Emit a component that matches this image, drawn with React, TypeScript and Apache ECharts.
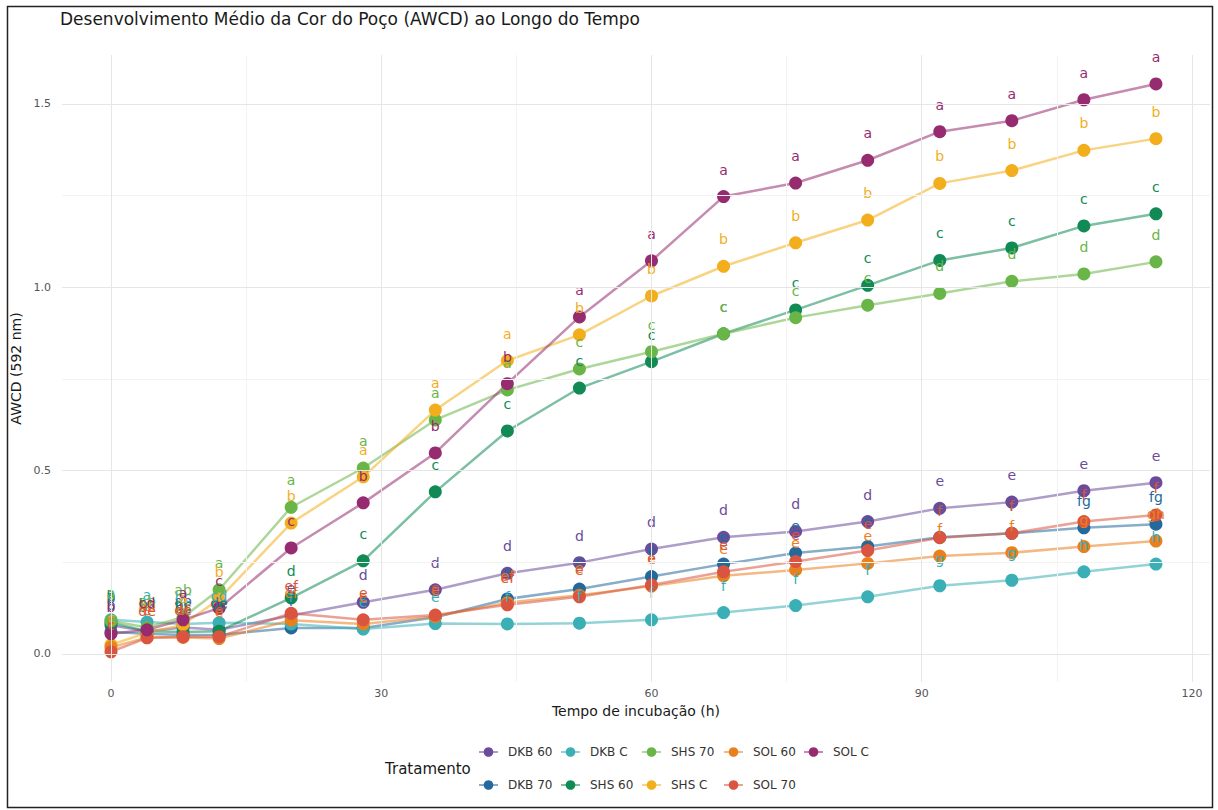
import React, { useEffect, useRef } from 'react';
import * as echarts from 'echarts';

const FONT = '"DejaVu Sans", "Noto Sans", sans-serif';

const times = [0, 4, 8, 12, 20, 28, 36, 44, 52, 60, 68, 76, 84, 92, 100, 108, 116];

const dkb60 = [0.078, 0.062, 0.072, 0.066, 0.105, 0.141, 0.175, 0.22, 0.249, 0.286, 0.318, 0.334, 0.361, 0.397, 0.414, 0.445, 0.467];
const dkb70 = [0.06, 0.055, 0.052, 0.052, 0.071, 0.071, 0.1, 0.15, 0.177, 0.211, 0.245, 0.275, 0.293, 0.318, 0.329, 0.344, 0.354];
const dkbC = [0.093, 0.087, 0.082, 0.085, 0.082, 0.068, 0.083, 0.082, 0.084, 0.093, 0.113, 0.132, 0.156, 0.186, 0.201, 0.224, 0.245];
const shs60 = [0.085, 0.062, 0.06, 0.062, 0.153, 0.254, 0.442, 0.608, 0.725, 0.797, 0.873, 0.938, 1.005, 1.073, 1.107, 1.167, 1.2];
const shs70 = [0.09, 0.072, 0.1, 0.175, 0.4, 0.507, 0.638, 0.72, 0.777, 0.824, 0.873, 0.917, 0.951, 0.983, 1.016, 1.036, 1.069];
const shsC = [0.025, 0.058, 0.08, 0.15, 0.357, 0.483, 0.665, 0.8, 0.87, 0.976, 1.057, 1.121, 1.183, 1.283, 1.318, 1.373, 1.405];
const sol60 = [0.018, 0.045, 0.045, 0.042, 0.092, 0.082, 0.102, 0.14, 0.16, 0.185, 0.213, 0.229, 0.247, 0.267, 0.276, 0.293, 0.308];
const sol70 = [0.006, 0.044, 0.047, 0.047, 0.111, 0.093, 0.106, 0.134, 0.156, 0.188, 0.224, 0.252, 0.282, 0.317, 0.329, 0.361, 0.379];
const solC = [0.055, 0.066, 0.093, 0.125, 0.289, 0.412, 0.548, 0.737, 0.919, 1.072, 1.247, 1.284, 1.346, 1.424, 1.454, 1.511, 1.554];

const dkb60L = ['b', 'bc', 'ab', 'de', 'e', 'd', 'd', 'd', 'd', 'd', 'd', 'd', 'd', 'e', 'e', 'e', 'e'];
const dkb70L = ['b', 'bc', 'bc', 'e', 'f', 'e', 'e', 'e', 'e', 'e', 'e', 'e', 'e', 'f', 'f', 'fg', 'fg'];
const dkbCL = ['a', 'a', 'bc', 'cd', 'f', 'e', 'e', 'f', 'f', 'f', 'f', 'f', 'f', 'g', 'g', 'h', 'h'];
const shs60L = ['b', 'bc', 'bc', 'ce', 'd', 'c', 'c', 'c', 'c', 'c', 'c', 'c', 'c', 'c', 'c', 'c', 'c'];
const shs70L = ['a', 'ab', 'ab', 'a', 'a', 'a', 'a', 'a', 'c', 'c', 'c', 'c', 'c', 'd', 'd', 'd', 'd'];
const shsCL = ['c', 'ab', 'a', 'b', 'b', 'a', 'a', 'a', 'b', 'b', 'b', 'b', 'b', 'b', 'b', 'b', 'b'];
const sol60L = ['c', 'e', 'ef', 'e', 'ef', 'e', 'e', 'ef', 'e', 'e', 'e', 'e', 'e', 'f', 'f', 'g', 'gh'];
const sol70L = ['c', 'de', 'de', 'e', 'ef', 'e', 'e', 'ef', 'e', 'e', 'e', 'e', 'e', 'f', 'f', 'f', 'f'];
const solCL = ['b', 'cd', 'a', 'c', 'c', 'b', 'b', 'b', 'a', 'a', 'a', 'a', 'a', 'a', 'a', 'a', 'a'];

const treatments = ['DKB 60', 'DKB 70', 'DKB C', 'SHS 60', 'SHS 70', 'SHS C', 'SOL 60', 'SOL 70', 'SOL C'];
const colors = ['#6B4C9A', '#24699C', '#3AAFB5', '#118A55', '#6AB547', '#F2AE1C', '#E9801F', '#D9553F', '#962B6F'];
const valueSets = [dkb60, dkb70, dkbC, shs60, shs70, shsC, sol60, sol70, solC];
const letterSets = [dkb60L, dkb70L, dkbCL, shs60L, shs70L, shsCL, sol60L, sol70L, solCL];

const xMajor = [0, 30, 60, 90, 120];
const xMinor = [15, 45, 75, 105];
const yMajor = [0, 0.5, 1, 1.5];
const yMinor = [0.25, 0.75, 1.25];

const legendCols = [['DKB 60', 'DKB 70'], ['DKB C', 'SHS 60'], ['SHS 70', 'SHS C'], ['SOL 60', 'SOL 70'], ['SOL C']];
const legendLefts = [478, 560, 641, 723, 803];

export default function App() {
  const ref = useRef<HTMLDivElement>(null);
  useEffect(() => {
    if (!ref.current) return;
    const chart = echarts.init(ref.current, null, { renderer: 'svg' });

    const dataSeries = treatments.map((name, k) => ({
      name,
      type: 'line',
      data: times.map((t, i) => [t, valueSets[k][i], letterSets[k][i]]),
      symbol: 'circle',
      symbolSize: 13,
      showSymbol: true,
      z: 3,
      itemStyle: { color: colors[k], opacity: 1 },
      lineStyle: { color: colors[k], width: 2.5, opacity: 0.55 },
      label: {
        show: true,
        position: 'inside',
        offset: [0, -27],
        formatter: (p: any) => p.value[2],
        color: colors[k],
        fontSize: 14,
        fontFamily: FONT,
      },
      emphasis: { disabled: true },
    }));

    const gridMajor = { color: '#E6E6E6', width: 1, type: 'solid' };
    const gridMinor = { color: '#F3F3F3', width: 1, type: 'solid' };

    const gridSeries = {
      type: 'line',
      data: [],
      silent: true,
      z: 0,
      markLine: {
        silent: true,
        symbol: ['none', 'none'],
        label: { show: false },
        animation: false,
        data: [
          ...xMinor.map((v) => ({ xAxis: v, lineStyle: gridMinor })),
          ...yMinor.map((v) => ({ yAxis: v, lineStyle: gridMinor })),
          ...xMajor.map((v) => ({ xAxis: v, lineStyle: gridMajor })),
          ...yMajor.map((v) => ({ yAxis: v, lineStyle: gridMajor })),
        ],
      },
    };

    chart.setOption({
      animation: false,
      backgroundColor: '#ffffff',
      title: {
        text: 'Desenvolvimento Médio da Cor do Poço (AWCD) ao Longo do Tempo',
        left: 60,
        top: 10,
        padding: 0,
        textStyle: { fontSize: 17, fontWeight: 'normal', color: '#1a1a1a', fontFamily: FONT },
      },
      grid: { left: 62, right: 8, top: 55, bottom: 128 },
      xAxis: {
        type: 'value',
        min: -5.44,
        max: 122,
        axisLine: { show: false },
        axisTick: { show: false },
        splitLine: { show: false },
        axisLabel: { customValues: xMajor, color: '#555555', fontSize: 11, margin: 6, fontFamily: FONT },
        name: 'Tempo de incubação (h)',
        nameLocation: 'middle',
        nameGap: 22,
        nameTextStyle: { fontSize: 14, color: '#1a1a1a', fontFamily: FONT },
      },
      yAxis: {
        type: 'value',
        min: -0.0764,
        max: 1.633,
        axisLine: { show: false },
        axisTick: { show: false },
        splitLine: { show: false },
        axisLabel: {
          customValues: yMajor,
          formatter: (v: number) => v.toFixed(1),
          color: '#555555',
          fontSize: 11,
          margin: 11,
          fontFamily: FONT,
        },
        name: 'AWCD (592 nm)',
        nameLocation: 'middle',
        nameGap: 37,
        nameTextStyle: { fontSize: 14, color: '#1a1a1a', fontFamily: FONT },
      },
      legend: legendCols.map((col, i) => ({
        data: col,
        orient: 'vertical',
        left: legendLefts[i],
        top: 746,
        itemGap: 21,
        itemWidth: 19,
        itemHeight: 12,
        padding: 0,
        selectedMode: false,
        textStyle: { fontSize: 12, color: '#333333', fontFamily: FONT, padding: [0, 0, 0, 5] },
      })),
      graphic: [
        {
          type: 'rect',
          shape: { x: 7.5, y: 6.5, width: 1205, height: 801 },
          style: { fill: 'none', stroke: '#222222', lineWidth: 1.5 },
          silent: true,
          z: 100,
        },
        {
          type: 'text',
          left: 385,
          top: 761,
          style: { text: 'Tratamento', fontSize: 15, fill: '#1a1a1a', fontFamily: FONT },
        },
      ],
      series: [gridSeries, ...dataSeries],
    });

    return () => chart.dispose();
  }, []);

  return (
    <div
      ref={ref}
      style={{ position: 'absolute', left: 0, top: 0, width: 1218, height: 810, background: '#fff' }}
    />
  );
}
